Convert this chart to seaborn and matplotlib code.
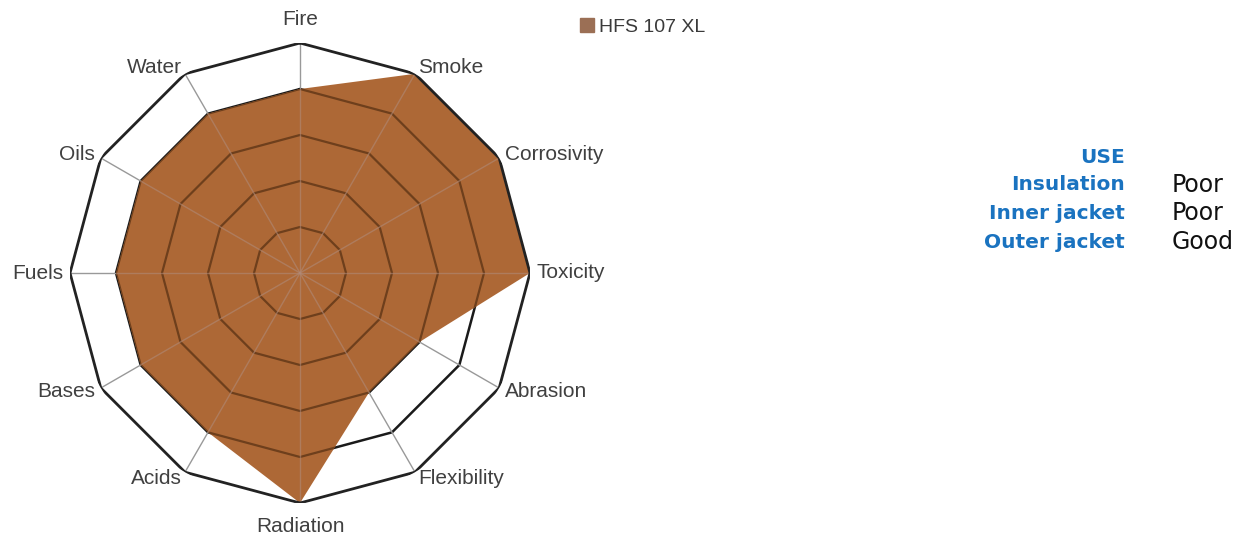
#radar chart of cable jacket resistance properties
import matplotlib
matplotlib.use("Agg")
import matplotlib.pyplot as plt
import matplotlib.patches as mpatches
import seaborn as sns
import numpy as np

sns.set_theme(style="white")
plt.rcParams['font.family'] = ['Liberation Sans', 'DejaVu Sans']

#data (scale 0-5)
categories = ["Fire", "Smoke", "Corrosivity", "Toxicity", "Abrasion", "Flexibility",
              "Radiation", "Acids", "Bases", "Fuels", "Oils", "Water"]
values = [4, 5, 5, 5, 3, 3, 5, 4, 4, 4, 4, 4]
series_name = "HFS 107 XL"
levels = [1, 2, 3, 4, 5]

use_labels = ["Insulation", "Inner jacket", "Outer jacket"]
use_ratings = ["Poor", "Poor", "Good"]

fill_color = "#ad6836"
blue = "#1a73c0"

fig = plt.figure(figsize=(12.53, 5.39), dpi=100)
ax = fig.add_axes([70 / 1253, 36 / 539, 460 / 1253, 460 / 539], projection="polar")
ax.set_theta_zero_location("N")
ax.set_theta_direction(-1)

n = len(categories)
angles = np.linspace(0, 2 * np.pi, n, endpoint=False)
closed = np.append(angles, angles[0])

#inner rings and spokes, as they look where not covered
for lvl in levels[:-1]:
    ax.plot(closed, [lvl] * (n + 1), color="#1a1a1a", lw=1.8, zorder=1)
for a in angles:
    ax.plot([a, a], [0, levels[-1]], color="#999999", lw=1.0, zorder=1)

vals = np.append(values, values[0])
poly = ax.fill(closed, vals, color=fill_color, lw=0, zorder=2)[0]

#rings and spokes seen through the fill
for lvl in levels[:-1]:
    ln, = ax.plot(closed, [lvl] * (n + 1), color="#6e3f1c", lw=1.6, zorder=3)
    ln.set_clip_path(poly)
for a in angles:
    ln, = ax.plot([a, a], [0, levels[-1]], color="#b08a78", lw=1.0, alpha=0.6, zorder=3)
    ln.set_clip_path(poly)

#outer ring
ax.plot(closed, [levels[-1]] * (n + 1), color="#222222", lw=2.0, zorder=4)

ax.set_ylim(0, levels[-1])
ax.set_xticks([])
ax.set_yticks([])
ax.grid(False)
ax.spines["polar"].set_visible(False)
ax.set_facecolor("none")

#category labels
for a, lab in zip(angles, categories):
    deg = np.degrees(a)
    if np.isclose(deg, 0):
        ax.text(a, 5.3, lab, ha="center", va="bottom", fontsize=15, color="#404040")
    elif np.isclose(deg, 180):
        ax.text(a, 5.3, lab, ha="center", va="top", fontsize=15, color="#404040")
    elif deg < 180:
        ax.text(a, 5.15, lab, ha="left", va="center", fontsize=15, color="#404040")
    else:
        ax.text(a, 5.15, lab, ha="right", va="center", fontsize=15, color="#404040")

#legend
handle = mpatches.Patch(color="#9b6f55", label=series_name)
fig.legend(handles=[handle], loc="center left", bbox_to_anchor=(562 / 1253, 1 - 27 / 539),
           frameon=False, handlelength=0.75, handleheight=0.75, handletextpad=0.25,
           prop={"size": 14}, labelcolor="#3a3a3a")

#usage table on the right
fig.text(1125 / 1253, 1 - 157 / 539, "USE", ha="right", va="center", fontsize=14.5,
         fontweight="bold", color=blue, family="DejaVu Sans")
for i, (lab, rate) in enumerate(zip(use_labels, use_ratings)):
    y = 1 - (185 + 28.5 * i) / 539
    fig.text(1125 / 1253, y, lab, ha="right", va="center", fontsize=14.5,
             fontweight="bold", color=blue, family="DejaVu Sans")
    fig.text(1172 / 1253, y, rate, ha="left", va="center", fontsize=17,
             color="#111111", family="DejaVu Sans")

fig.savefig("out.png", dpi=100)
